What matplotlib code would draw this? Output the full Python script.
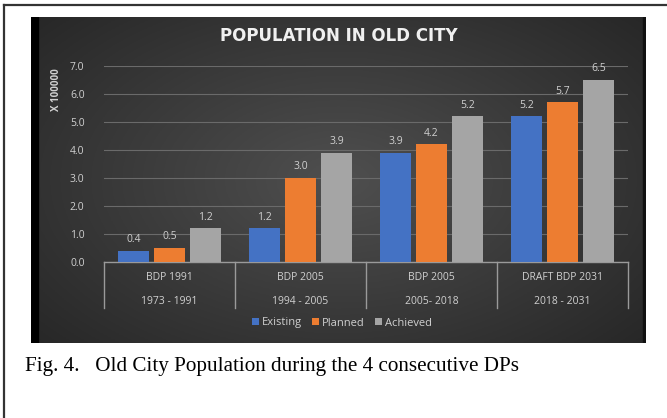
import numpy as np
import matplotlib
matplotlib.use("Agg")
import matplotlib.pyplot as plt
from matplotlib.patches import Rectangle
from matplotlib.lines import Line2D

plans = ["BDP 1991", "BDP 2005", "BDP 2005", "DRAFT BDP 2031"]
periods = ["1973 - 1991", "1994 - 2005", "2005- 2018", "2018 - 2031"]
series_names = ["Existing", "Planned", "Achieved"]
existing = [0.4, 1.2, 3.9, 5.2]
planned = [0.5, 3.0, 4.2, 5.7]
achieved = [1.2, 3.9, 5.2, 6.5]
colors = ["#4472C4", "#ED7D31", "#A5A5A5"]
yticks = [0.0, 1.0, 2.0, 3.0, 4.0, 5.0, 6.0, 7.0]

W, H = 667, 418
fig = plt.figure(figsize=(W / 100, H / 100), dpi=100)
fig.patch.set_facecolor("white")

def fx(px):
    return px / W

def fy(py):
    return 1 - py / H

# outer frame lines
fig.add_artist(Line2D([fx(4), fx(667)], [fy(5), fy(5)], color="#333333", lw=1.6))
fig.add_artist(Line2D([fx(4), fx(4)], [fy(5), fy(418)], color="#333333", lw=1.6))

# dark panel with radial gradient
px0, px1, py0, py1 = 31, 646, 17, 343
bg = fig.add_axes([fx(px0), fy(py1), fx(px1 - px0), (py1 - py0) / H])
bg.set_axis_off()
nx, ny = 300, 160
xx, yy = np.meshgrid(np.linspace(-1, 1, nx), np.linspace(-1, 1, ny))
r = np.sqrt((xx * 0.9) ** 2 + (yy * 0.8) ** 2)
val = 0.31 - 0.13 * np.clip(r, 0, 1.3)
img = np.dstack([val, val, val])
bg.imshow(img, aspect="auto", extent=[0, 1, 0, 1], origin="lower")
bg.add_patch(Rectangle((0, 0), 7 / (px1 - px0), 1, color="black", transform=bg.transAxes))
bg.add_patch(Rectangle((1 - 3 / (px1 - px0), 0), 3 / (px1 - px0), 1, color="#111111", transform=bg.transAxes))
bg.set_xlim(0, 1)
bg.set_ylim(0, 1)

# plot axes
ax_l, ax_r, ax_b, ax_t = 104, 628, 262, 66
ax = fig.add_axes([fx(ax_l), fy(ax_b), fx(ax_r - ax_l), (ax_b - ax_t) / H])
ax.patch.set_alpha(0)
n = len(plans)
x = np.arange(n)
bw = 0.23
offs = [-0.275, 0.0, 0.275]
data = [existing, planned, achieved]
for s, (vals, c, o) in enumerate(zip(data, colors, offs)):
    ax.bar(x + o, vals, bw, color=c, zorder=3, label=series_names[s])
    for xi, v in zip(x, vals):
        ax.text(xi + o, v + 0.2, f"{v:.1f}", ha="center", va="bottom",
                color="#d0d0d0", fontsize=7.5, fontfamily="Open Sans")
ax.set_xlim(-0.5, n - 0.5)
ax.set_ylim(0, 7)
ax.set_yticks(yticks)
ax.set_yticklabels([f"{t:.1f}" for t in yticks], color="#d0d0d0", fontsize=7.5, fontfamily="Open Sans")
ax.tick_params(axis="y", length=0, pad=14)
ax.set_xticks([])
ax.grid(axis="y", color="#6a6a6a", lw=0.8, zorder=0)
for sp in ["top", "right", "left"]:
    ax.spines[sp].set_visible(False)
ax.spines["bottom"].set_color("#9a9a9a")
ax.spines["bottom"].set_linewidth(1.0)

# category separators and labels
for b in np.arange(n + 1) - 0.5:
    ax.plot([b, b], [0, -46 / 28], color="#9a9a9a", lw=1.0, clip_on=False)
for xi in x:
    ax.text(xi, -16 / 28, plans[xi], ha="center", va="center", color="#d0d0d0",
            fontsize=7.5, fontfamily="Open Sans")
    ax.text(xi, -39 / 28, periods[xi], ha="center", va="center", color="#d0d0d0",
            fontsize=7.5, fontfamily="Open Sans")

ax.set_ylabel("X 100000", color="#d0d0d0", fontsize=7, fontweight="bold", fontfamily="Open Sans")
ax.yaxis.set_label_coords(-(104 - 62) / (ax_r - ax_l), (262 - 90) / 196)

# title
fig.text(fx(339), fy(36), "POPULATION IN OLD CITY", ha="center", va="center",
         color="#f0f0f0", fontsize=12, fontweight="bold", fontfamily="DejaVu Sans")

# legend
leg = fig.legend(loc="center", bbox_to_anchor=(fx(342), fy(323)), ncol=3, frameon=False,
                 handlelength=0.6, handleheight=0.6, handletextpad=0.3,
                 columnspacing=0.9, prop={"family": "Open Sans", "size": 8})
for t in leg.get_texts():
    t.set_color("#d0d0d0")

# caption
fig.text(fx(25), fy(367), "Fig. 4.   Old City Population during the 4 consecutive DPs",
         ha="left", va="center", color="black", fontsize=15.2, fontfamily="Liberation Serif")

fig.savefig("out.png", dpi=100, facecolor="white")
